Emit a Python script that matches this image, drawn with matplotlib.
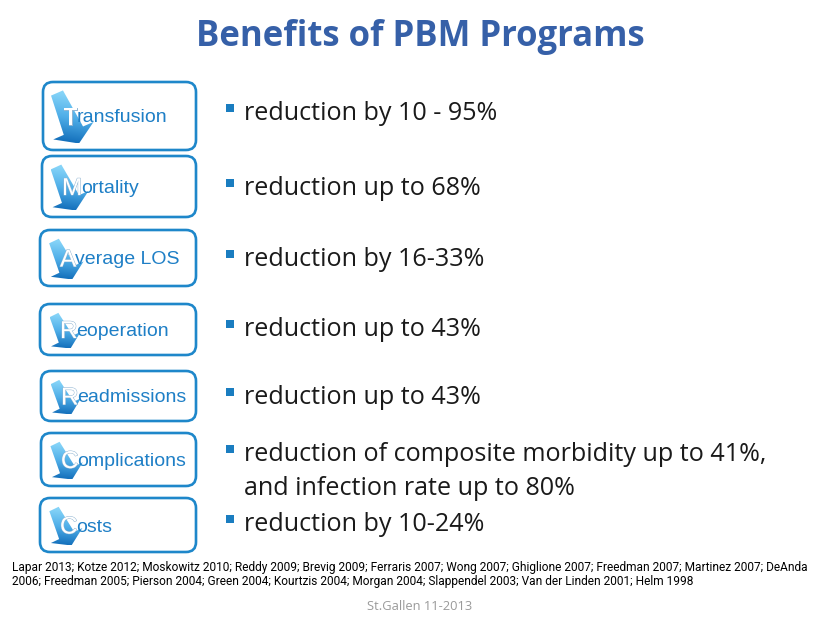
import matplotlib
matplotlib.use("Agg")
import matplotlib.pyplot as plt
import numpy as np
from matplotlib.patches import FancyBboxPatch, Polygon
from matplotlib.colors import LinearSegmentedColormap
import matplotlib.patheffects as pe

title = "Benefits of PBM Programs"
labels = ["Transfusion", "Mortality", "Average LOS", "Reoperation",
          "Readmissions", "Complications", "Costs"]
benefits = ["reduction by 10 - 95%",
            "reduction up to 68%",
            "reduction by 16-33%",
            "reduction up to 43%",
            "reduction up to 43%",
            "reduction of composite morbidity up to 41%,\nand infection rate up to 80%",
            "reduction by 10-24%"]
refs = ["Lapar 2013; Kotze 2012; Moskowitz 2010; Reddy 2009; Brevig 2009; Ferraris 2007; Wong 2007; "
        "Ghiglione 2007; Freedman 2007; Martinez 2007; DeAnda",
        "2006; Freedman 2005; Pierson 2004; Green 2004; Kourtzis 2004; Morgan 2004; "
        "Slappendel 2003; Van der Linden 2001; Helm 1998"]
footer = "St.Gallen 11-2013"

# box layout (pixels): left, top, right, bottom
boxes = [(43, 82, 196, 150), (42, 156, 196, 217), (40, 230, 196, 286),
         (40, 304, 196, 355), (41, 371, 196, 421), (41, 433, 196, 486),
         (40, 498, 196, 552)]
bullet_y = [111, 186, 257, 327, 395, 452, 522]

blue = "#1E87CA"
dark = "#1a1a1a"

fig = plt.figure(figsize=(8.38, 6.27), dpi=100)
ax = fig.add_axes([0, 0, 1, 1])
ax.set_xlim(0, 838)
ax.set_ylim(627, 0)
ax.axis("off")
r = fig.canvas.get_renderer()

def width_px(t):
    return t.get_window_extent(r).width

def fit(t, w):
    t.set_fontsize(t.get_fontsize() * w / width_px(t))

# title
tt = ax.text(420, 37, title, ha="center", va="center", fontsize=24,
             fontweight="bold", family=["Open Sans", "DejaVu Sans"], color="#3660A8")
fit(tt, 450)

cmap = LinearSegmentedColormap.from_list("arr", ["#86D4F8", "#4FAEE8", "#1672BD"])

for (x0, y0, x1, y1), lab in zip(boxes, labels):
    h = y1 - y0
    ax.add_patch(FancyBboxPatch((x0, y0), x1 - x0, h,
                                boxstyle="round,pad=0,rounding_size=10",
                                fc="white", ec=blue, lw=1.9, zorder=1))
    # tapered arrow pointing down-right
    s = h / 68.0
    T = np.array([x0 + 14, y0 + 11])
    P = np.array([x0 + 14 + 22 * s, y1 - 6.5])
    L = np.linalg.norm(P - T)
    u = (P - T) / L
    v = np.array([-u[1], u[0]])
    sw0, sw1, hw, hl = 13 * s, 21 * s, 44 * s, 14 * s
    b = u * (L - hl)
    pts = [T + v * sw0 / 2, T + v * sw1 / 2 + b, T + v * hw / 2 + b, P,
           T - v * hw / 2 + b, T - v * sw1 / 2 + b, T - v * sw0 / 2]
    poly = Polygon(pts, closed=True, fc="none", ec="none", zorder=2)
    ax.add_patch(poly)
    pts = np.array(pts)
    bx0, by0 = pts.min(axis=0)
    bx1, by1 = pts.max(axis=0)
    gx, gy = np.meshgrid(np.linspace(bx0, bx1, 60), np.linspace(by0, by1, 60))
    z = ((gx - T[0]) * u[0] + (gy - T[1]) * u[1]) / L
    z = z + 0.25 * ((gx - T[0]) * v[0] + (gy - T[1]) * v[1]) / (hw / 2)
    im = ax.imshow(z, extent=(bx0, bx1, by0, by1), origin="lower", cmap=cmap,
                   vmin=0, vmax=1, aspect="auto", zorder=2)
    im.set_clip_path(poly)

    base = (y0 + y1) / 2 + 6.5
    lt = ax.text(x0 + 20, base + 2, lab[0], ha="left", va="baseline", fontsize=17.5,
                 family=["Liberation Sans", "DejaVu Sans"], color="white", zorder=3,
                 path_effects=[pe.withStroke(linewidth=0.7, foreground="#8fb4d2")])
    ext = lt.get_window_extent(r)
    xr = ax.transData.inverted().transform((ext.x1, ext.y0))[0]
    ax.text(xr - 1, base, lab[1:], ha="left", va="baseline", fontsize=14,
            family=["Liberation Sans", "DejaVu Sans"], color="#1E7FC6", zorder=3)

ax.set_xlim(0, 838)
ax.set_ylim(627, 0)

# bullets
size = None
for yb, txt in zip(bullet_y, benefits):
    ax.plot(230, yb - 3, marker="s", ms=5.3, color="#1A7DC0", mew=0, zorder=3)
    t = ax.text(244, yb - 10, txt, ha="left", va="top", fontsize=16,
                family=["Open Sans", "DejaVu Sans"], color=dark, linespacing=1.45)
    if size is None:
        fit(t, 253)
        size = t.get_fontsize()
    else:
        t.set_fontsize(size)

r1 = ax.text(12, 567, refs[0], ha="left", va="center", fontsize=8,
             family=["Roboto", "DejaVu Sans"], color="black")
fit(r1, 800)
ax.text(12, 582, refs[1], ha="left", va="center", fontsize=r1.get_fontsize(),
        family=["Roboto", "DejaVu Sans"], color="black")
ft = ax.text(420, 607, footer, ha="center", va="center", fontsize=8,
             family=["Open Sans", "DejaVu Sans"], color="#9a9a9a")
fit(ft, 105)

fig.savefig("out.png", dpi=100, facecolor="white")
